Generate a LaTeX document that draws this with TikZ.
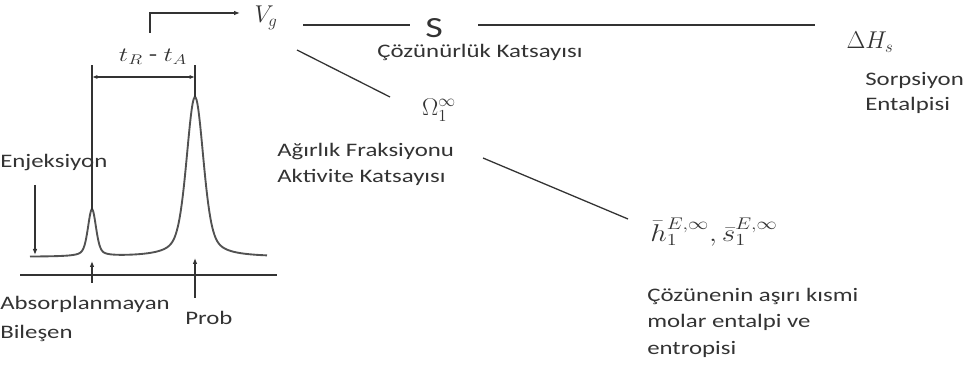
\documentclass[tikz,border=0pt]{standalone}
\usepackage{fontspec}
\setmainfont{Carlito}
\usetikzlibrary{arrows.meta, calc}
\definecolor{ink}{HTML}{333333}

\begin{document}
\begin{tikzpicture}[
    x=0.03cm, y=-0.03cm,
    ln/.style={line width=1.1pt, draw=ink},
    arr/.style={ln, -{Latex[length=1.8mm, width=1.4mm]}},
    lbl/.style={font=\fontsize{16.3}{22}\selectfont, text=ink, align=left, inner sep=0pt, xscale=1.3},
    mth/.style={font=\fontsize{22}{26}\selectfont, text=ink, inner sep=0pt},
    declare function={pk(\t,\c,\w)=0.6*exp(-min(((\t-\c)/\w)^2,20))+0.4/(1+((\t-\c)/\w)^2);},
]
\useasboundingbox (0,0) rectangle (966,370);

% Chromatogram
\coordinate (pa) at (92,210);
\coordinate (pr) at (195,97);
\draw[ln] (20,275) -- (277,275);
\draw[line width=1.6pt, draw=ink!85] plot[domain=30:267, samples=240, smooth]
    (\x, {257 - 47*pk(\x,92,5.5) - 160*pk(\x,195,11.5)});
\draw[ln] (pa) -- ++(0,-145);
\draw[ln] (pr) -- ++(0,-32);
\draw[ln, {Latex[length=1.6mm, width=1.2mm]}-{Latex[length=1.6mm, width=1.2mm]}]
    ($(pa)+(0,-133)$) -- ($(pr)+(0,-20)$);
\node[lbl, font=\fontsize{18}{22}\selectfont] (tra) at (153,57) {$t_R$ - $t_A$};

% Injection and peak labels
\node[lbl, anchor=west] (enj) at (0,163) {Enjeksiyon};
\coordinate (inj) at (35,185);
\draw[arr] (inj) -- ++(0,70);
\coordinate (ua) at (92,283);
\coordinate (ur) at (195,298);
\draw[arr] (ua) -- ++(0,-22);
\draw[arr] (ur) -- ++(0,-40);
\node[lbl, anchor=west, font=\fontsize{16.3}{24}\selectfont] (abs) at (0,319) {Absorplanmayan\\Bileşen};
\node[lbl, anchor=west] (prob) at (185,318) {Prob};

% Quantities
\node[mth] (vg) at (266,18) {$V_g$};
\coordinate (vs) at (150,33);
\draw[arr] (vs) |- ($(vg)+(-26,-5)$);

\node[lbl, font=\fontsize{25}{26}\selectfont] (s) at (434,28) {S};
\node[lbl] (czk) at (480,52) {Çözünürlük Katsayısı};
\node[mth] (dh) at (870,42) {$\Delta H_s$};
\node[lbl, anchor=west] (sorp) at (865,93) {Sorpsiyon\\Entalpisi};

\node[mth] (om) at (439,110) {$\Omega_1^\infty$};
\node[lbl, anchor=west] (agr) at (277,164.5) {Ağırlık Fraksiyonu\\Aktivite Katsayısı};

\node[mth, xscale=1.2] (hs) at (714,232) {$\bar{h}_1^{E,\infty},\bar{s}_1^{E,\infty}$};
\node[lbl, anchor=west, font=\fontsize{16.3}{22.6}\selectfont] (coz) at (647,322.5) {Çözünenin aşırı kısmi\\molar entalpi ve\\entropisi};

% Links
\draw[ln] ($(vg)+(37,7)$) -- ($(s)+(-24,-3)$);
\draw[ln] ($(s)+(44,-3)$) -- ($(dh)+(-55,-17)$);
\draw[ln] ($(vg)+(31,32)$) -- ($(om)+(-49,-13)$);
\draw[ln] ($(om)+(44,48)$) -- ($(hs)+(-86,-13)$);

\end{tikzpicture}
\end{document}
